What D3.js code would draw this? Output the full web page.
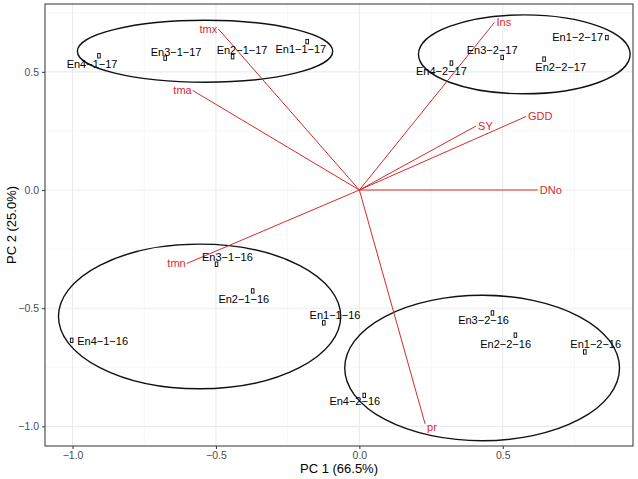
<!DOCTYPE html>
<html>
<head>
<meta charset="utf-8">
<script src="https://cdn.jsdelivr.net/npm/d3@7"></script>
<style>
  body { margin: 0; background: #fff; }
  text { font-family: "Liberation Sans", Arial, sans-serif; }
</style>
</head>
<body>
<div id="chart"></div>
<script>
(function(){
    // observations (scores)
    var obsNames = ['En4-1-17','En3-1-17','En2-1-17','En1-1-17',
                    'En4-2-17','En3-2-17','En2-2-17','En1-2-17',
                    'En4-1-16','En3-1-16','En2-1-16','En1-1-16',
                    'En3-2-16','En2-2-16','En1-2-16','En4-2-16'];
    var pc1 = [-0.908,-0.677,-0.442,-0.182, 0.321,0.498,0.644,0.863,
               -1.003,-0.498,-0.372,-0.124, 0.464,0.544,0.786,0.017];
    var pc2 = [0.568,0.558,0.564,0.628, 0.537,0.561,0.554,0.645,
               -0.636,-0.314,-0.427,-0.562, -0.520,-0.614,-0.685,-0.869];
    // where the labels sit (they are jittered away from the points)
    var labX = [-0.932,-0.639,-0.409,-0.204, 0.286,0.463,0.702,0.761,
                -0.895,-0.460,-0.403,-0.085, 0.433,0.510,0.824,-0.016];
    var labY = [0.533,0.583,0.593,0.597, 0.504,0.593,0.520,0.645,
                -0.639,-0.285,-0.462,-0.531, -0.551,-0.653,-0.654,-0.894];

    // variable loadings
    var varNames = ['tmx','tma','tmn','Ins','SY','GDD','DNo','pr'];
    var loadX = [-0.492,-0.581,-0.602, 0.471,0.407,0.581,0.622, 0.229];
    var loadY = [ 0.682, 0.421,-0.311, 0.709,0.271,0.311,0.000,-0.989];

    // group ellipses
    var ellCx = [-0.538, 0.575,-0.557, 0.428];
    var ellCy = [ 0.587, 0.574,-0.535,-0.753];
    var ellRx = [ 0.445, 0.369, 0.492, 0.479];
    var ellRy = [ 0.131, 0.167, 0.306, 0.308];

    var xTicks = [-1.0,-0.5,0.0,0.5];
    var yTicks = [-1.0,-0.5,0.0,0.5];
    var xMinor = [-0.75,-0.25,0.25,0.75];
    var yMinor = [-0.75,-0.25,0.25,0.75];

    var W = 638, H = 479;
    var margin = {top: 4, right: 5, bottom: 33, left: 45};
    var pw = W - margin.left - margin.right;
    var ph = H - margin.top - margin.bottom;
    var red = '#d42b2b';

    var svg = d3.select('#chart').append('svg')
        .attr('width', W).attr('height', H);
    var g = svg.append('g')
        .attr('transform', 'translate(' + margin.left + ',' + margin.top + ')');

    var x = d3.scaleLinear().domain([-1.096, 0.954]).range([0, pw]);
    var y = d3.scaleLinear().domain([-1.083, 0.787]).range([ph, 0]);

    // grid
    g.selectAll('line.minx').data(xMinor).enter().append('line')
        .attr('x1', d => x(d)).attr('x2', d => x(d)).attr('y1', 0).attr('y2', ph)
        .attr('stroke', '#f2f2f2').attr('stroke-width', 0.6);
    g.selectAll('line.miny').data(yMinor).enter().append('line')
        .attr('y1', d => y(d)).attr('y2', d => y(d)).attr('x1', 0).attr('x2', pw)
        .attr('stroke', '#f2f2f2').attr('stroke-width', 0.6);
    g.selectAll('line.majx').data(xTicks).enter().append('line')
        .attr('x1', d => x(d)).attr('x2', d => x(d)).attr('y1', 0).attr('y2', ph)
        .attr('stroke', '#ebebeb').attr('stroke-width', 1.1);
    g.selectAll('line.majy').data(yTicks).enter().append('line')
        .attr('y1', d => y(d)).attr('y2', d => y(d)).attr('x1', 0).attr('x2', pw)
        .attr('stroke', '#ebebeb').attr('stroke-width', 1.1);

    // axes
    var xAxis = d3.axisBottom(x).tickValues(xTicks).tickFormat(d3.format('.1f'))
        .tickSize(3).tickPadding(3);
    var yAxis = d3.axisLeft(y).tickValues(yTicks).tickFormat(d3.format('.1f'))
        .tickSize(3).tickPadding(3);
    var ax = g.append('g').attr('transform', 'translate(0,' + ph + ')').call(xAxis);
    var ay = g.append('g').call(yAxis);
    [ax, ay].forEach(function(a){
        a.select('.domain').remove();
        a.selectAll('.tick line').attr('stroke', '#333');
        a.selectAll('.tick text').attr('fill', '#4d4d4d')
            .style('font-size', '10.5px')
            .style('font-family', '"Liberation Sans", Arial, sans-serif')
            .text(function(d){ return d3.format('.1f')(d).replace('-', '\u2212'); });
    });

    // ellipses
    var ell = ellCx.map(function(c, i){ return {cx: c, cy: ellCy[i], rx: ellRx[i], ry: ellRy[i]}; });
    g.selectAll('ellipse').data(ell).enter().append('ellipse')
        .attr('cx', d => x(d.cx)).attr('cy', d => y(d.cy))
        .attr('rx', d => x(d.rx) - x(0)).attr('ry', d => y(0) - y(d.ry))
        .attr('fill', 'none').attr('stroke', '#111').attr('stroke-width', 1.4);

    // loading vectors
    var loads = varNames.map(function(n, i){ return {name: n, x: loadX[i], y: loadY[i]}; });
    g.selectAll('line.load').data(loads).enter().append('line')
        .attr('x1', x(0)).attr('y1', y(0))
        .attr('x2', d => x(d.x)).attr('y2', d => y(d.y))
        .attr('stroke', red).attr('stroke-width', 1);
    g.selectAll('text.load').data(loads).enter().append('text')
        .attr('x', d => x(d.x) + (d.x < 0 ? -1 : 2))
        .attr('y', d => y(d.y) + (d.name === 'pr' ? 3 : 0))
        .attr('dy', '0.35em')
        .attr('text-anchor', d => d.x < 0 ? 'end' : 'start')
        .attr('fill', red).style('font-size', '11px')
        .text(d => d.name);

    // observation points + labels
    var obs = obsNames.map(function(n, i){
        return {name: n, x: pc1[i], y: pc2[i], lx: labX[i], ly: labY[i]};
    });
    g.selectAll('rect.pt').data(obs).enter().append('rect')
        .attr('x', d => x(d.x) - 1.3).attr('y', d => y(d.y) - 2.2)
        .attr('width', 2.6).attr('height', 4.4)
        .attr('fill', 'none').attr('stroke', '#000').attr('stroke-width', 0.9);
    g.selectAll('text.obs').data(obs).enter().append('text')
        .attr('x', d => x(d.lx)).attr('y', d => y(d.ly))
        .attr('dy', '0.35em').attr('text-anchor', 'middle')
        .attr('fill', '#000').style('font-size', '11px')
        .text(d => d.name.replace(/-/g, '\u2212'));

    // panel border
    g.append('rect').attr('width', pw).attr('height', ph)
        .attr('fill', 'none').attr('stroke', '#333').attr('stroke-width', 1);

    // axis titles
    svg.append('text')
        .attr('x', margin.left + pw / 2).attr('y', H - 6)
        .attr('text-anchor', 'middle').style('font-size', '13px').attr('fill', '#000')
        .text('PC 1 (66.5%)');
    svg.append('text')
        .attr('transform', 'translate(11,' + (margin.top + ph / 2) + ') rotate(-90)')
        .attr('text-anchor', 'middle').attr('dy', '0.35em')
        .style('font-size', '13px').attr('fill', '#000')
        .text('PC 2 (25.0%)');
})();
</script>
</body>
</html>
